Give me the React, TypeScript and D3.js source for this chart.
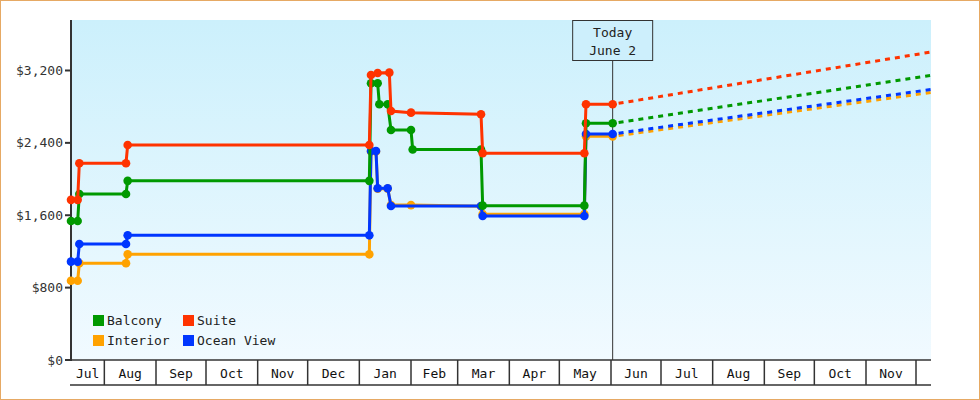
import React from "react";
import * as d3 from "d3";

// ---- data ----
const seriesNames = ["Balcony", "Suite", "Interior", "Ocean View"];
const seriesColors = ["#009900", "#ff3300", "#ffa200", "#0036ff"];

const balconyPoints: [string, number][] = [
  ["2022-07-12", 1536], ["2022-07-16", 1536], ["2022-07-17", 1835], ["2022-08-14", 1835],
  ["2022-08-15", 1980], ["2023-01-07", 1980], ["2023-01-08", 3059], ["2023-01-12", 3059],
  ["2023-01-13", 2826], ["2023-01-18", 2826], ["2023-01-20", 2542], ["2023-02-01", 2542],
  ["2023-02-02", 2327], ["2023-03-15", 2327], ["2023-03-16", 1706], ["2023-05-16", 1706],
  ["2023-05-17", 2616], ["2023-06-02", 2616],
];
const suitePoints: [string, number][] = [
  ["2022-07-12", 1770], ["2022-07-16", 1770], ["2022-07-17", 2175], ["2022-08-14", 2175],
  ["2022-08-15", 2376], ["2023-01-07", 2376], ["2023-01-08", 3150], ["2023-01-12", 3172],
  ["2023-01-19", 3176], ["2023-01-20", 2752], ["2023-02-01", 2734], ["2023-03-15", 2716],
  ["2023-03-16", 2285], ["2023-05-16", 2285], ["2023-05-17", 2826], ["2023-06-02", 2826],
];
const interiorPoints: [string, number][] = [
  ["2022-07-12", 876], ["2022-07-16", 876], ["2022-07-17", 1069], ["2022-08-14", 1069],
  ["2022-08-15", 1168], ["2023-01-07", 1168], ["2023-01-08", 2305], ["2023-01-11", 2305],
  ["2023-01-12", 1894], ["2023-01-18", 1894], ["2023-01-20", 1712], ["2023-02-01", 1712],
  ["2023-03-15", 1700], ["2023-03-16", 1612], ["2023-05-16", 1612], ["2023-05-17", 2472],
  ["2023-06-02", 2472],
];
const oceanViewPoints: [string, number][] = [
  ["2022-07-12", 1087], ["2022-07-16", 1087], ["2022-07-17", 1282], ["2022-08-14", 1282],
  ["2022-08-15", 1378], ["2023-01-07", 1378], ["2023-01-08", 2310], ["2023-01-11", 2310],
  ["2023-01-12", 1898], ["2023-01-18", 1898], ["2023-01-20", 1702], ["2023-03-15", 1702],
  ["2023-03-16", 1592], ["2023-05-16", 1592], ["2023-05-17", 2498], ["2023-06-02", 2498],
];

const forecastDates = ["2023-06-02", "2023-12-10"];
const balconyForecast = [2616, 3145];
const suiteForecast = [2826, 3404];
const interiorForecast = [2472, 2957];
const oceanViewForecast = [2498, 2990];

const yTicks = [0, 800, 1600, 2400, 3200];
const yMax = 3758;
const domainStart = "2022-07-12";
const domainEnd = "2023-12-10";
const todayDate = "2023-06-02";
const todayLabel = ["Today", "June 2"];

// ---- layout ----
const W = 980;
const H = 400;
const L = 71;
const R = 931;
const T = 20;
const B = 360;
const AXIS_B = 385;
const FONT = "'DejaVu Sans Mono', 'Liberation Mono', monospace";

const parse = d3.timeParse("%Y-%m-%d");

export default function App() {
  const x = d3.scaleTime().domain([parse(domainStart)!, parse(domainEnd)!]).range([L, R]);
  const y = d3.scaleLinear().domain([0, yMax]).range([B, T]);

  const series = [
    { name: seriesNames[0], color: seriesColors[0], pts: balconyPoints, fc: balconyForecast },
    { name: seriesNames[1], color: seriesColors[1], pts: suitePoints, fc: suiteForecast },
    { name: seriesNames[2], color: seriesColors[2], pts: interiorPoints, fc: interiorForecast },
    { name: seriesNames[3], color: seriesColors[3], pts: oceanViewPoints, fc: oceanViewForecast },
  ];
  const drawOrder = [2, 3, 0, 1];

  const line = d3
    .line<[string, number]>()
    .x((d) => x(parse(d[0])!))
    .y((d) => y(d[1]));

  const start = parse(domainStart)!;
  const end = parse(domainEnd)!;
  const bounds = d3.timeMonth.range(d3.timeMonth.offset(d3.timeMonth.floor(start), 1), end);
  const cellEdges = [start, ...bounds, end];
  const fmtMonth = d3.timeFormat("%b");
  const fmtY = (v: number) => "$" + d3.format(",")(v);

  const tx = x(parse(todayDate)!);

  return (
    <svg
      width={W}
      height={H}
      style={{ position: "absolute", left: 0, top: 0, background: "#fff" }}
      fontFamily={FONT}
    >
      <defs>
        <linearGradient id="bg" x1="0" y1="0" x2="0" y2="1">
          <stop offset="0%" stopColor="#ccf0fc" />
          <stop offset="100%" stopColor="#f1faff" />
        </linearGradient>
      </defs>
      <rect x={0.5} y={0.5} width={W - 1} height={H - 1} fill="#fff" stroke="#e6a964" />
      <rect x={L} y={T} width={R - L} height={B - T} fill="url(#bg)" />

      {/* y axis */}
      <line x1={L} x2={L} y1={T} y2={B + 1} stroke="#333" strokeWidth={2} />
      {yTicks.map((t) => (
        <g key={t}>
          <line x1={L - 6} x2={L} y1={y(t)} y2={y(t)} stroke="#333" strokeWidth={2} />
          <text x={L - 8} y={y(t) + 4.5} textAnchor="end" fontSize={13} fill="#333">
            {fmtY(t)}
          </text>
        </g>
      ))}

      {/* x axis band */}
      <line x1={L - 1} x2={R} y1={B} y2={B} stroke="#333" strokeWidth={1.5} />
      <line x1={L - 1} x2={R} y1={AXIS_B} y2={AXIS_B} stroke="#333" strokeWidth={1.5} />
      {bounds.map((d, i) => (
        <line key={i} x1={x(d)} x2={x(d)} y1={B} y2={AXIS_B} stroke="#333" strokeWidth={1.5} />
      ))}
      {cellEdges.slice(0, -1).map((d, i) => {
        const x0 = x(d);
        const x1 = x(cellEdges[i + 1]);
        if (x1 - x0 < 25) return null;
        return (
          <text key={i} x={(x0 + x1) / 2} y={377.5} textAnchor="middle" fontSize={13} fill="#111">
            {fmtMonth(d)}
          </text>
        );
      })}

      {/* today marker */}
      <line x1={tx} x2={tx} y1={60.5} y2={B} stroke="#333" strokeWidth={1} />
      <rect x={tx - 40} y={T + 0.5} width={80} height={40} fill="#cdeffc" stroke="#333" strokeWidth={1} />
      <text x={tx} y={37} textAnchor="middle" fontSize={13} fill="#222">
        {todayLabel[0]}
      </text>
      <text x={tx} y={55} textAnchor="middle" fontSize={13} fill="#222">
        {todayLabel[1]}
      </text>

      {/* series */}
      {drawOrder.map((i) => {
        const s = series[i];
        const fcPts: [string, number][] = forecastDates.map((d, k) => [d, s.fc[k]]);
        return (
          <g key={s.name}>
            <path d={line(s.pts) || ""} fill="none" stroke={s.color} strokeWidth={3} />
            <path
              d={line(fcPts) || ""}
              fill="none"
              stroke={s.color}
              strokeWidth={3}
              strokeDasharray="5,5"
              strokeDashoffset={-6}
            />
            {s.pts.map((p, k) => (
              <circle key={k} cx={x(parse(p[0])!)} cy={y(p[1])} r={4.3} fill={s.color} />
            ))}
          </g>
        );
      })}

      {/* legend */}
      {[0, 1, 2, 3].map((i) => {
        const col = i % 2;
        const row = Math.floor(i / 2);
        const lx = 93 + col * 90;
        const ly = 315 + row * 20;
        return (
          <g key={i}>
            <rect x={lx} y={ly} width={11} height={11} fill={seriesColors[i]} />
            <text x={lx + 14} y={ly + 9.8} fontSize={13} fill="#222">
              {seriesNames[i]}
            </text>
          </g>
        );
      })}
    </svg>
  );
}
